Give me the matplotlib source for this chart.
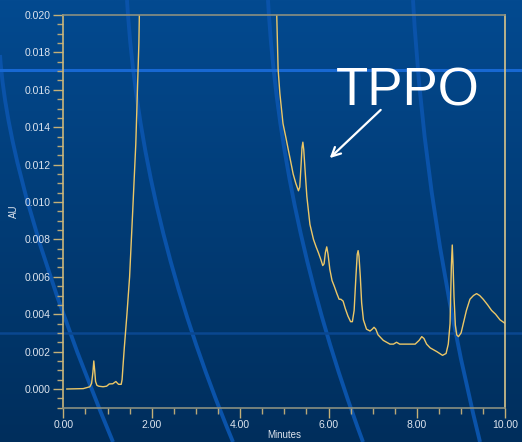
import numpy as np
import matplotlib
matplotlib.use("Agg")
import matplotlib.pyplot as plt
from matplotlib.path import Path
from matplotlib.patches import PathPatch
from matplotlib.ticker import MultipleLocator, FormatStrFormatter

plt.rcParams['font.family'] = ['Liberation Sans', 'DejaVu Sans']

# chromatogram trace (minutes, AU); values above 0.020 are off scale
minutes = [0.08, 0.45, 0.60, 0.64, 0.67, 0.69, 0.71, 0.73, 0.76, 0.80, 0.90, 0.98,
           1.04, 1.12, 1.16, 1.19, 1.22, 1.25, 1.31, 1.33, 1.35, 1.38, 1.44, 1.50,
           1.57, 1.64, 1.71, 1.72, 1.75,
           4.80, 4.83, 4.86, 4.90, 4.97, 5.04, 5.09, 5.15, 5.20, 5.26, 5.32, 5.35,
           5.38, 5.40, 5.42, 5.44, 5.47, 5.51, 5.58, 5.66, 5.72, 5.77, 5.83, 5.87,
           5.90, 5.93, 5.96, 5.99, 6.03, 6.08, 6.13, 6.19, 6.24, 6.28, 6.33, 6.38,
           6.44, 6.50, 6.54, 6.58, 6.62, 6.65, 6.67, 6.69, 6.72, 6.75, 6.79, 6.86,
           6.94, 6.99, 7.03, 7.07, 7.12, 7.24, 7.39, 7.47, 7.54, 7.61, 7.69, 7.96,
           8.05, 8.11, 8.16, 8.22, 8.30, 8.45, 8.58, 8.66, 8.71, 8.75, 8.78, 8.80,
           8.82, 8.84, 8.87, 8.90, 8.94, 9.00, 9.05, 9.12, 9.20, 9.28, 9.35, 9.42,
           9.50, 9.60, 9.69, 9.78, 9.88, 10.0]
au = [0.0000, 0.00002, 0.00012, 0.0003, 0.0009, 0.0015, 0.0010, 0.0004, 0.0002,
      0.00015, 0.00012, 0.00015, 0.00027, 0.00028, 0.00035, 0.0004, 0.00032,
      0.00025, 0.00025, 0.0005, 0.0012, 0.0022, 0.0040, 0.0060, 0.0095, 0.0131,
      0.0185, 0.0199, 0.0300,
      0.0300, 0.0199, 0.0171, 0.0158, 0.0142, 0.0134, 0.0128, 0.0121, 0.0115,
      0.0110, 0.0106, 0.0108, 0.0120, 0.0129, 0.0132, 0.0128, 0.0117, 0.0103,
      0.0088, 0.0080, 0.0076, 0.0073, 0.0069, 0.0066, 0.0067, 0.0073, 0.0076,
      0.0072, 0.0064, 0.0058, 0.0055, 0.0051, 0.0048, 0.0048, 0.0047, 0.0043,
      0.0039, 0.0036, 0.0036, 0.0042, 0.0060, 0.0072, 0.0074, 0.0071, 0.0060,
      0.0046, 0.0037, 0.0032, 0.0031, 0.0032, 0.0033, 0.0032, 0.0029, 0.0026,
      0.0024, 0.0024, 0.0025, 0.0024, 0.0024, 0.0024, 0.0026, 0.0028, 0.0027,
      0.0024, 0.0022, 0.0020, 0.0018, 0.0019, 0.0024, 0.0035, 0.0066, 0.0077,
      0.0065, 0.0049, 0.0034, 0.0029, 0.0028, 0.0030, 0.0035, 0.0042, 0.0048,
      0.0050, 0.0051, 0.0050, 0.0048, 0.0045, 0.0042, 0.0040, 0.0037, 0.0035]

# decorative background swooshes (figure pixels: start, control, end)
swooshes = [[(0, 55), (9, 192), (113, 442)],
            [(127, 0), (140, 219), (233, 442)],
            [(268, 0), (280, 219), (363, 442)],
            [(413, 0), (425, 219), (480, 442)]]

W, H = 522, 442
fig = plt.figure(figsize=(W / 100, H / 100), dpi=100)

# background gradient + decorations
bg = fig.add_axes([0, 0, 1, 1], zorder=0)
bg.set_xlim(0, W)
bg.set_ylim(H, 0)
bg.axis("off")
top = np.array([0x03, 0x4a, 0x90]) / 255
bot = np.array([0x00, 0x2e, 0x5c]) / 255
g = np.linspace(0, 1, 256)[:, None, None]
grad = top * (1 - g) + bot * g
bg.imshow(np.repeat(grad, 2, axis=1), extent=[0, W, H, 0], aspect="auto")
for pts in swooshes:
    p = Path(pts, [Path.MOVETO, Path.CURVE3, Path.CURVE3])
    bg.add_patch(PathPatch(p, fill=False, edgecolor="#0a53aa", lw=2.8))
bg.axhline(70, color="#1768d2", lw=2.2)
bg.axhline(333, color="#0a4790", lw=1.8)

ax = fig.add_axes([63.3 / W, 1 - 407.7 / H, 442 / W, (407.7 - 15) / H], zorder=1)
ax.patch.set_alpha(0)
ax.plot(minutes, au, color="#ecc767", lw=1.0)
ax.set_xlim(0, 10)
ax.set_ylim(-0.001, 0.020)

ax.xaxis.set_major_locator(MultipleLocator(2))
ax.xaxis.set_minor_locator(MultipleLocator(0.5))
ax.yaxis.set_major_locator(MultipleLocator(0.002))
ax.yaxis.set_minor_locator(MultipleLocator(0.0005))
ax.xaxis.set_major_formatter(FormatStrFormatter("%.2f"))
ax.yaxis.set_major_formatter(FormatStrFormatter("%.3f"))
ax.tick_params(which="major", length=7, width=1, color="#c4b077",
               labelsize=7.5, labelcolor="#dde4ee", pad=2)
ax.tick_params(which="minor", length=4, width=1, color="#b8a878")

ax.spines["left"].set_color("#c9b57a")
ax.spines["right"].set_color("#d8c48a")
ax.spines["top"].set_color("#8a8f80")
ax.spines["bottom"].set_color("#8a8f80")
for s in ax.spines.values():
    s.set_linewidth(1.2)

ax.set_xlabel("Minutes", fontsize=7, color="#dde4ee", labelpad=0)
ax.set_ylabel("AU", fontsize=7, color="#dde4ee", labelpad=4)

ax.text(408, H - 92, "TPPO", transform=None, fontsize=38, color="white",
        ha="center", va="center")
ax.annotate("", xy=(327.7, H - 160), xycoords="figure pixels",
            xytext=(382.7, H - 108), textcoords="figure pixels",
            arrowprops=dict(arrowstyle="->", color="white", lw=1.6,
                            mutation_scale=16))

fig.savefig("out.png", dpi=100)
